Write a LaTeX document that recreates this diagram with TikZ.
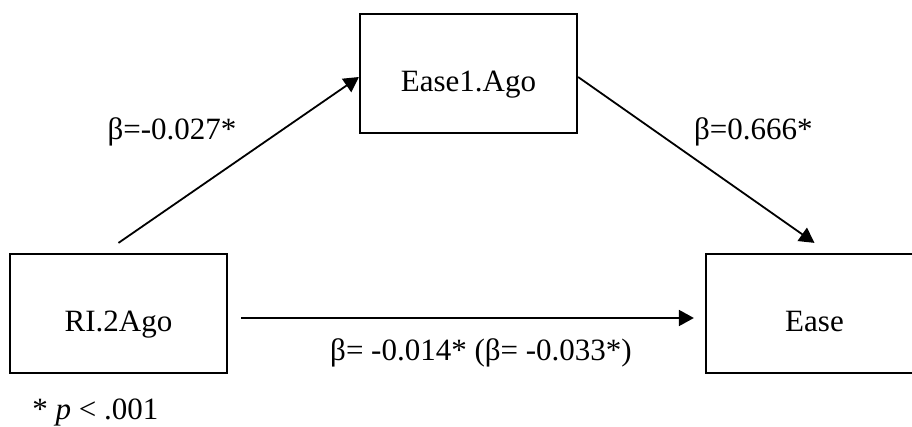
\documentclass[tikz,border=0pt]{standalone}
\usepackage{fontspec}
\setmainfont{Liberation Serif}
\usetikzlibrary{arrows.meta}

\tikzset{
  varbox/.style={draw, line width=1.1pt, minimum width=108.5pt, minimum height=59.5pt,
    text height=18pt, text depth=0pt, inner sep=0pt},
  effarrow/.style={line width=0.9pt, -{Triangle[length=7.5pt,width=8pt]}},
  coef/.style={inner sep=0pt}
}

\begin{document}
\begin{tikzpicture}[x=0.5pt,y=-0.5pt,font=\fontsize{15.5}{18}\selectfont]
\useasboundingbox (0,0) rectangle (912,427);
\node[varbox] (ri) at (118.5,313.5) {RI.2Ago};
\node[varbox] (med) at (468.5,73.5) {Ease1.Ago};
\node[varbox] (ease) at (814.5,313.5) {Ease};
\draw[effarrow] ([yshift=5pt]ri.north) -- ([yshift=-1.75pt]med.west);
\draw[effarrow] ([yshift=-1.75pt]med.east) -- ([yshift=5pt]ease.north);
\draw[effarrow] ([shift={(6.5pt,-2.25pt)}]ri.east) -- ([shift={(-5.5pt,-2.25pt)}]ease.west);
\node[coef, anchor=base] (a) at (172,140) {β=-0.027*};
\node[coef, anchor=base east] (b) at (813,140) {β=0.666*};
\node[coef, anchor=base] (c) at (481,361) {β= -0.014* (β= -0.033*)};
\node[coef, anchor=base west] (sig) at (32,420) {* \textit{p} < .001};
\end{tikzpicture}
\end{document}
